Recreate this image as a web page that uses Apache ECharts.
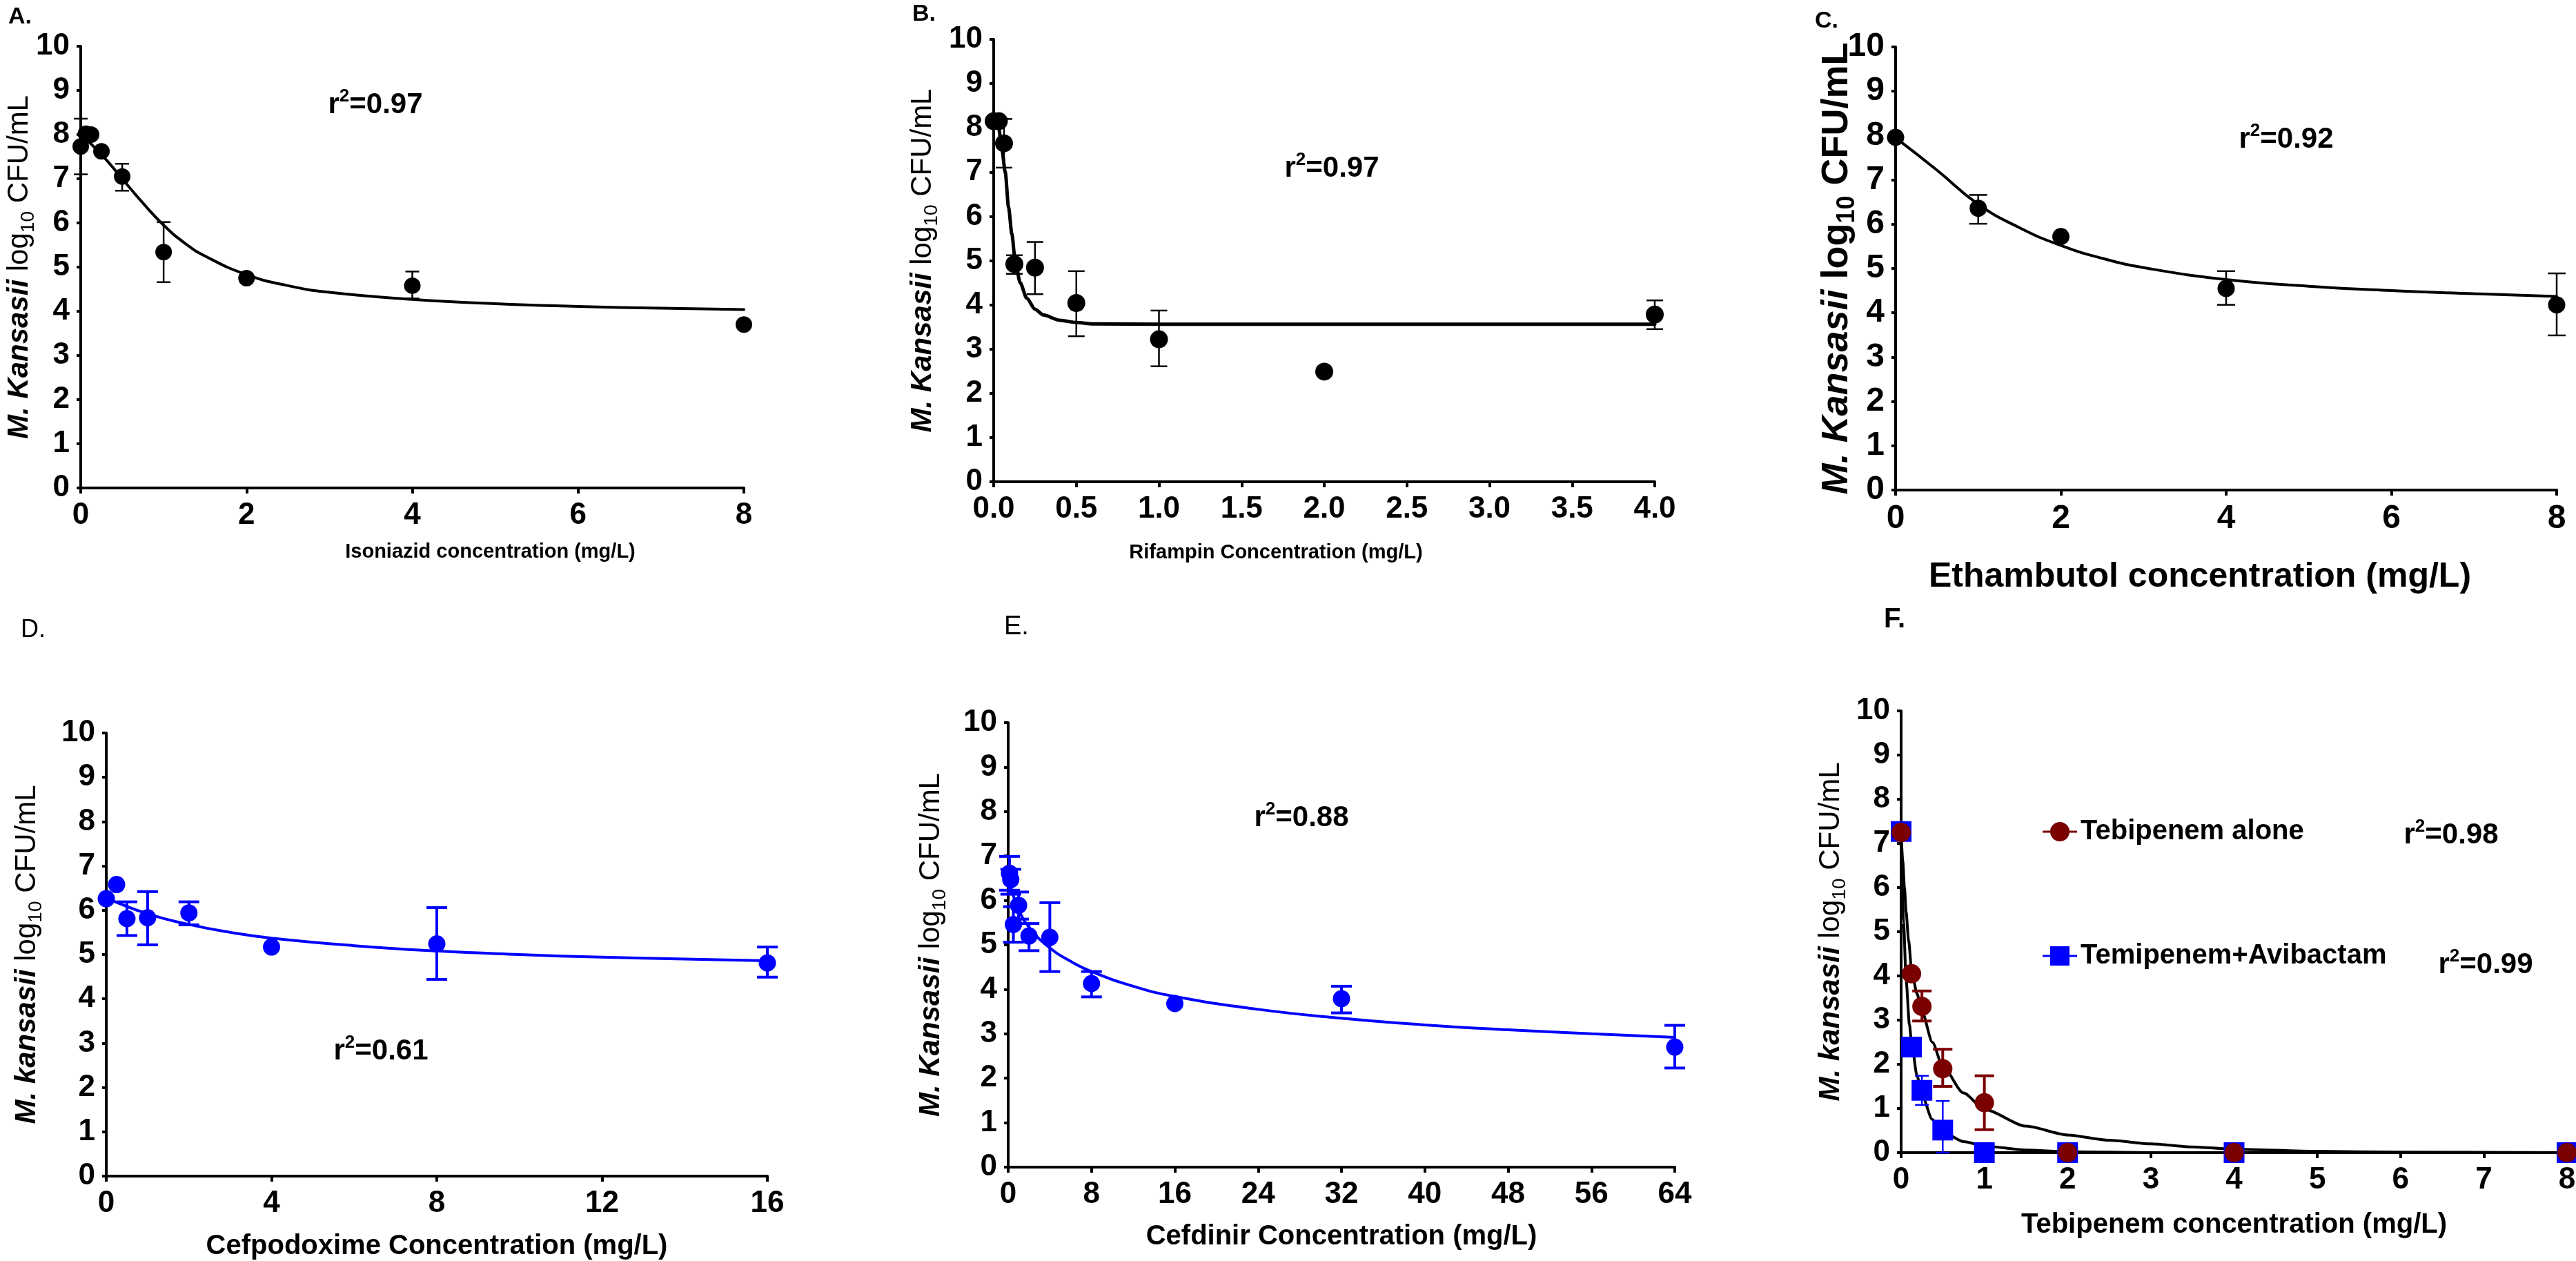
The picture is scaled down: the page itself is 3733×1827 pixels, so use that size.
<!DOCTYPE html>
<html><head><meta charset="utf-8">
<script src="https://cdn.jsdelivr.net/npm/echarts@6/dist/echarts.min.js"></script>
<style>html,body{margin:0;padding:0;background:#fff}#c{width:3733px;height:1827px}</style>
</head><body><div id="c"></div>
<script>
// ---------- shared ----------
const yTicks = [0, 1, 2, 3, 4, 5, 6, 7, 8, 9, 10];

// ---------- Panel A: Isoniazid ----------
const aXTicks = [0, 2, 4, 6, 8];
const aPoints = [[0, 7.73], [0.0625, 8.02], [0.125, 8.0], [0.25, 7.62], [0.5, 7.05], [1, 5.34], [2, 4.75], [4, 4.58], [8, 3.70]];
const aErrors = [[0, 7.10, 8.36], [0.5, 6.73, 7.34], [1, 4.66, 6.02], [4, 4.29, 4.90]];
const aCurve = [[0, 8.0], [0.25, 7.55], [0.5, 7.0], [0.75, 6.45], [1, 5.95], [1.25, 5.55], [1.5, 5.25], [2, 4.83], [2.5, 4.58], [3, 4.43], [4, 4.27], [5, 4.17], [6, 4.11], [7, 4.07], [8, 4.04]];

// ---------- Panel B: Rifampin ----------
const bXTicks = [0, 0.5, 1, 1.5, 2, 2.5, 3, 3.5, 4];
const bPoints = [[0, 8.15], [0.03125, 8.15], [0.0625, 7.65], [0.125, 4.92], [0.25, 4.84], [0.5, 4.04], [1, 3.22], [2, 2.49], [4, 3.78]];
const bErrors = [[0.0625, 7.1, 8.2], [0.125, 4.7, 5.12], [0.25, 4.24, 5.42], [0.5, 3.29, 4.76], [1, 2.61, 3.87], [4, 3.45, 4.1]];
const bCurve = [[0, 8.2], [0.03, 8.0], [0.05, 7.5], [0.07, 7.0], [0.09, 6.2], [0.11, 5.6], [0.13, 5.0], [0.16, 4.5], [0.2, 4.15], [0.25, 3.9], [0.3, 3.77], [0.4, 3.65], [0.5, 3.6], [0.6, 3.57], [1, 3.56], [2, 3.56], [4, 3.56]];

// ---------- Panel C: Ethambutol ----------
const cXTicks = [0, 2, 4, 6, 8];
const cPoints = [[0, 7.96], [1, 6.36], [2, 5.72], [4, 4.55], [8, 4.18]];
const cErrors = [[1, 6.01, 6.66], [4, 4.18, 4.94], [8, 3.49, 4.89]];
const cCurve = [[0, 7.95], [0.5, 7.22], [1, 6.45], [1.5, 5.92], [2, 5.52], [2.5, 5.23], [3, 5.02], [4, 4.75], [5, 4.6], [6, 4.5], [7, 4.43], [8, 4.37]];

// ---------- Panel D: Cefpodoxime ----------
const dXTicks = [0, 4, 8, 12, 16];
const dPoints = [[0, 6.26], [0.25, 6.58], [0.5, 5.81], [1, 5.83], [2, 5.94], [4, 5.17], [8, 5.24], [16, 4.81]];
const dErrors = [[0.5, 5.43, 6.19], [1, 5.22, 6.42], [2, 5.67, 6.19], [8, 4.44, 6.06], [16, 4.49, 5.17]];
const dCurve = [[0, 6.28], [1, 5.92], [2, 5.68], [3, 5.5], [4, 5.37], [6, 5.2], [8, 5.08], [10, 5.0], [12, 4.94], [14, 4.9], [16, 4.86]];

// ---------- Panel E: Cefdinir ----------
const eXTicks = [0, 8, 16, 24, 32, 40, 48, 56, 64];
const ePoints = [[0.125, 6.61], [0.25, 6.47], [0.5, 5.46], [1, 5.89], [2, 5.2], [4, 5.17], [8, 4.13], [16, 3.68], [32, 3.79], [64, 2.7]];
const eErrors = [[0.125, 6.23, 6.99], [0.25, 6.14, 6.7], [0.5, 5.06, 5.86], [1, 5.58, 6.19], [2, 4.87, 5.48], [4, 4.4, 5.95], [8, 3.83, 4.4], [32, 3.47, 4.07], [64, 2.23, 3.19]];
const eCurve = [[0.25, 6.3], [1, 5.8], [2, 5.4], [4, 4.93], [6, 4.63], [8, 4.4], [12, 4.07], [16, 3.84], [24, 3.55], [32, 3.35], [40, 3.2], [48, 3.09], [56, 3.0], [64, 2.92]];

// ---------- Panel F: Tebipenem ----------
const fXTicks = [0, 1, 2, 3, 4, 5, 6, 7, 8];
const fNames = ['Tebipenem alone', 'Temipenem+Avibactam'];
const fAlonePoints = [[0, 7.25], [0.125, 4.05], [0.25, 3.31], [0.5, 1.9], [1, 1.13], [2, 0], [4, 0], [8, 0]];
const fAloneErrors = [[0.25, 2.98, 3.66], [0.5, 1.5, 2.34], [1, 0.52, 1.74]];
const fAloneCurve = [[0, 7.25], [0.02, 6.6], [0.04, 6.0], [0.06, 5.45], [0.09, 4.8], [0.125, 4.15], [0.19, 3.6], [0.25, 3.2], [0.375, 2.5], [0.5, 1.95], [0.75, 1.35], [1, 0.98], [1.5, 0.6], [2, 0.4], [2.5, 0.28], [3, 0.2], [3.5, 0.13], [4, 0.08], [5, 0.03], [6, 0.01], [8, 0]];
const fComboPoints = [[0, 7.27], [0.125, 2.39], [0.25, 1.41], [0.5, 0.51], [1, 0], [2, 0], [4, 0], [8, 0]];
const fComboErrors = [[0.25, 1.08, 1.74], [0.5, 0, 1.17]];
const fComboCurve = [[0, 7.25], [0.03, 5.2], [0.06, 3.9], [0.1, 2.9], [0.125, 2.5], [0.19, 1.75], [0.25, 1.3], [0.375, 0.75], [0.5, 0.47], [0.75, 0.25], [1, 0.15], [1.5, 0.06], [2, 0.02], [3, 0], [8, 0]];

const rSquared = ['0.97', '0.97', '0.92', '0.61', '0.88', '0.98', '0.99'];

// ---------- build ----------
const FONT = '"Liberation Sans", Arial, sans-serif';
const BLACK = '#000000', BLUE = '#0000FF', RED = '#7A0000';

function yName(k, bold, size) {
  return {
    text: '{i|M. ' + k + '}{n| log}{s|10}{n| CFU/mL}',
    rich: {
      i: { fontStyle: 'italic', fontWeight: 'bold', fontSize: size, lineHeight: size + 12, fontFamily: FONT, color: BLACK },
      n: { fontWeight: bold ? 'bold' : 'normal', fontSize: size, lineHeight: size + 12, fontFamily: FONT, color: BLACK },
      s: { fontWeight: bold ? 'bold' : 'normal', fontSize: Math.round(size * 0.66), lineHeight: Math.round(size * 0.66), verticalAlign: 'bottom', fontFamily: FONT, color: BLACK }
    }
  };
}

const panels = [
  { grid: { left: 117, top: 67, width: 961, height: 640 }, xt: aXTicks, tickFont: 44,
    xName: 'Isoniazid concentration (mg/L)', xNameSize: 29, xNameGap: 78, xNamePad: [0, 0, 0, 226],
    yKey: 'Kansasii', yBold: false, yNameSize: 42, yNameGap: 62,
    sets: [{ pts: aPoints, err: aErrors, curve: aCurve, color: BLACK, curveColor: BLACK, size: 24, cap: 10, ew: 2.5 }] },
  { grid: { left: 1440, top: 57, width: 958, height: 641 }, xt: bXTicks, tickFont: 44, fmt: v => v.toFixed(1), steep: true,
    xName: 'Rifampin Concentration (mg/L)', xNameSize: 29, xNameGap: 88, xNamePad: [0, 140, 0, 0],
    yKey: 'Kansasii', yBold: false, yNameSize: 42, yNameGap: 76,
    sets: [{ pts: bPoints, err: bErrors, curve: bCurve, color: BLACK, curveColor: BLACK, size: 26, cap: 12, ew: 2.5, cw: 5 }] },
  { grid: { left: 2747, top: 68, width: 958, height: 642 }, xt: cXTicks, tickFont: 48,
    xName: 'Ethambutol concentration (mg/L)', xNameSize: 50, xNameGap: 101, xNamePad: [0, 76, 0, 0],
    yKey: 'Kansasii', yBold: true, yNameSize: 54, yNameGap: 52,
    sets: [{ pts: cPoints, err: cErrors, curve: cCurve, color: BLACK, curveColor: BLACK, size: 25, cap: 13, ew: 2.5 }] },
  { grid: { left: 154, top: 1062, width: 958, height: 642 }, xt: dXTicks, tickFont: 44,
    xName: 'Cefpodoxime Concentration (mg/L)', xNameSize: 40, xNameGap: 82, xNamePad: [0, 0, 0, 0],
    yKey: 'kansasii', yBold: false, yNameSize: 42, yNameGap: 88,
    sets: [{ pts: dPoints, err: dErrors, curve: dCurve, color: BLUE, curveColor: BLUE, size: 25, cap: 15, ew: 4 }] },
  { grid: { left: 1461, top: 1047, width: 966, height: 644 }, xt: eXTicks, tickFont: 44,
    xName: 'Cefdinir Concentration (mg/L)', xNameSize: 40, xNameGap: 81, xNamePad: [0, 0, 0, 0],
    yKey: 'Kansasii', yBold: false, yNameSize: 42, yNameGap: 85,
    sets: [{ pts: ePoints, err: eErrors, curve: eCurve, color: BLUE, curveColor: BLUE, size: 25, cap: 15, ew: 4 }] },
  { grid: { left: 2755, top: 1030, width: 965, height: 640 }, xt: fXTicks, tickFont: 44, steep: true,
    xName: 'Tebipenem concentration (mg/L)', xNameSize: 40, xNameGap: 85, xNamePad: [0, 0, 0, 0],
    yKey: 'kansasii', yBold: false, yNameSize: 42, yNameGap: 75,
    sets: [
      { name: fNames[1], pts: fComboPoints, err: fComboErrors, curve: fComboCurve, color: BLUE, curveColor: BLACK, size: 30, symbol: 'rect', cap: 10, ew: 2.5 },
      { name: fNames[0], pts: fAlonePoints, err: fAloneErrors, curve: fAloneCurve, color: RED, curveColor: BLACK, size: 28, cap: 14, ew: 4 }
    ] }
];

function errRender(color, cap, lw) {
  return function (params, api) {
    const x = api.value(0), lo = api.value(1), hi = api.value(2);
    const p1 = api.coord([x, hi]), p2 = api.coord([x, lo]);
    const st = { stroke: color, lineWidth: lw };
    return { type: 'group', children: [
      { type: 'line', shape: { x1: p1[0], y1: p1[1], x2: p2[0], y2: p2[1] }, style: st },
      { type: 'line', shape: { x1: p1[0] - cap, y1: p1[1], x2: p1[0] + cap, y2: p1[1] }, style: st },
      { type: 'line', shape: { x1: p2[0] - cap, y1: p2[1], x2: p2[0] + cap, y2: p2[1] }, style: st }
    ] };
  };
}

const grids = [], xAxes = [], yAxes = [], series = [];
panels.forEach((p, i) => {
  grids.push(Object.assign({ outerBoundsMode: 'none', containLabel: false }, p.grid));
  const xt = p.xt;
  xAxes.push({
    type: 'value', gridIndex: i, min: xt[0], max: xt[xt.length - 1], interval: xt[1] - xt[0],
    axisLine: { show: true, onZero: false, lineStyle: { color: BLACK, width: 4 } },
    axisTick: { show: true, length: 8, lineStyle: { color: BLACK, width: 4 } },
    splitLine: { show: false },
    axisLabel: { color: BLACK, fontSize: p.tickFont, fontWeight: 'bold', fontFamily: FONT, margin: 18,
      formatter: p.fmt || (v => String(v)), showMinLabel: true, showMaxLabel: true },
    name: p.xName, nameLocation: 'middle', nameGap: p.xNameGap, nameMoveOverlap: false,
    nameTextStyle: { color: BLACK, fontSize: p.xNameSize, fontWeight: 'bold', fontFamily: FONT, padding: p.xNamePad }
  });
  const yn = yName(p.yKey, p.yBold, p.yNameSize);
  yAxes.push({
    type: 'value', gridIndex: i, min: yTicks[0], max: yTicks[yTicks.length - 1], interval: yTicks[1] - yTicks[0],
    axisLine: { show: true, onZero: false, lineStyle: { color: BLACK, width: 4 } },
    axisTick: { show: true, length: 6, lineStyle: { color: BLACK, width: 4 } },
    splitLine: { show: false },
    axisLabel: { color: BLACK, fontSize: p.tickFont, fontWeight: 'bold', fontFamily: FONT, margin: 16, showMinLabel: true, showMaxLabel: true },
    name: yn.text, nameLocation: 'middle', nameRotate: 90, nameGap: p.yNameGap, nameMoveOverlap: false,
    nameTextStyle: { color: BLACK, fontFamily: FONT, rich: yn.rich }
  });
  p.sets.forEach((s, j) => {
    const lineS = {
      type: 'line', name: (s.name || 'fit') + ' fit', xAxisIndex: i, yAxisIndex: i, data: s.curve,
      showSymbol: false, symbol: 'none', smooth: p.steep ? 0.25 : 0.5, silent: true,
      lineStyle: { color: s.curveColor, width: s.cw || 4, join: 'round', cap: 'round' }, z: 2, clip: false
    };
    if (p.steep) lineS.smoothMonotone = 'x';
    series.push(lineS);
    series.push({
      type: 'custom', name: (s.name || 'data') + ' error', xAxisIndex: i, yAxisIndex: i, data: s.err,
      encode: { x: 0, y: [1, 2] }, renderItem: errRender(s.color, s.cap, s.ew), clip: false, silent: true, z: 3
    });
    series.push({
      type: 'scatter', name: s.name || ('data' + i), xAxisIndex: i, yAxisIndex: i, data: s.pts,
      symbol: s.symbol || 'circle', symbolSize: s.size, itemStyle: { color: s.color, opacity: 1 },
      clip: false, z: 4 + j, silent: true
    });
  });
});

function rText(x, y, val) {
  return { type: 'text', x: x, y: y, z: 10,
    style: { text: '{r|r}{s|2}{r|=' + val + '}', align: 'center', verticalAlign: 'middle',
      textAlign: 'center', textVerticalAlign: 'middle',
      rich: { r: { fontSize: 42, fontWeight: 'bold', fontFamily: FONT, fill: BLACK, color: BLACK, lineHeight: 50 },
              s: { fontSize: 26, fontWeight: 'bold', fontFamily: FONT, fill: BLACK, color: BLACK, lineHeight: 26, verticalAlign: 'top' } } } };
}
function letter(x, y, t, size, weight) {
  return { type: 'text', x: x, y: y, z: 10,
    style: { text: t, fontSize: size, fontWeight: weight, fontFamily: FONT, fill: BLACK } };
}

const graphic = [
  letter(12, 8, 'A.', 34, 'bold'), letter(1322, 4, 'B.', 34, 'bold'), letter(2630, 14, 'C.', 34, 'bold'),
  letter(30, 895, 'D.', 36, 'normal'), letter(1455, 890, 'E.', 38, 'normal'), letter(2730, 878, 'F.', 40, 'bold'),
  rText(544, 152, rSquared[0]), rText(1930, 244, rSquared[1]), rText(3313, 202, rSquared[2]),
  rText(552, 1523, rSquared[3]), rText(1886, 1185, rSquared[4]),
  rText(3552, 1210, rSquared[5]), rText(3602, 1398, rSquared[6])
];

const iconCircle = 'path://M0 13.5 L50 13.5 L50 16.5 L0 16.5 Z M25 1 A14 14 0 1 1 25 29 A14 14 0 1 1 25 1 Z';
const iconSquare = 'path://M0 13.5 L50 13.5 L50 16.5 L0 16.5 Z M11 1 L39 1 L39 29 L11 29 Z';

const chart = echarts.init(document.getElementById('c'), null, { renderer: 'canvas' });
chart.setOption({
  animation: false,
  backgroundColor: '#ffffff',
  grid: grids, xAxis: xAxes, yAxis: yAxes, series: series, graphic: graphic,
  legend: { data: [{ name: fNames[0], icon: iconCircle }, { name: fNames[1], icon: iconSquare }],
    orient: 'vertical', left: 2955, top: 1180, itemGap: 140,
    itemWidth: 50, itemHeight: 30, selectedMode: false,
    textStyle: { fontSize: 40, fontWeight: 'bold', fontFamily: FONT, color: BLACK } }
});
</script></body></html>
